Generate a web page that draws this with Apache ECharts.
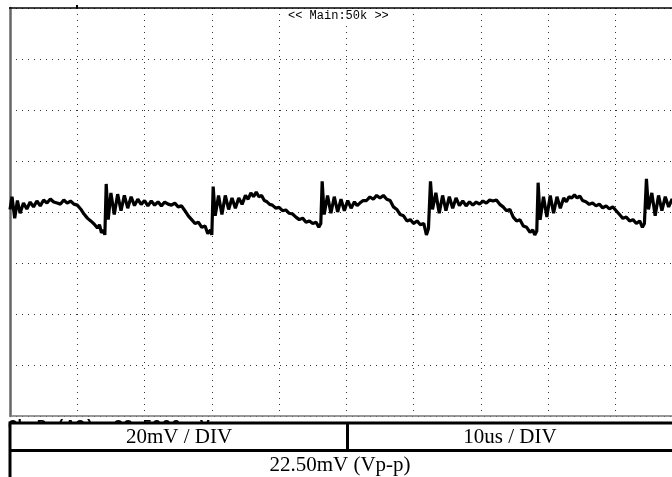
<!DOCTYPE html>
<html><head><meta charset="utf-8">
<script src="https://cdn.jsdelivr.net/npm/echarts@6/dist/echarts.min.js"></script>
<style>html,body{margin:0;padding:0;background:#fff}#c{width:672px;height:477px}</style>
</head><body><div id="c"></div>
<script>
// Trace: time in microseconds, voltage in mV, one pair of arrays per switching cycle
const cycleATime = [0.0,0.3,0.7,1.1,1.5,2.0,2.5,3.0,3.5,4.0,4.5,5.0,5.5,6.0,6.5,7.0,7.5,8.0,8.5,9.0,9.5,10.0,10.5,11.0,11.5,12.0,12.5,13.0,13.3,13.6,13.9,14.1,14.3];
const cycleAVolt = [1.0,6.0,-2.5,4.5,-0.5,3.5,1.2,3.9,2.0,4.3,2.4,4.7,3.5,5.1,3.9,3.5,3.1,4.7,3.5,4.3,3.1,2.7,1.2,-0.8,-2.4,-3.5,-4.7,-6.3,-5.0,-8.2,-7.0,-9.0,11.0];
const cycleBTime = [14.6,15.0,15.5,16.0,16.5,17.0,17.5,18.0,18.5,19.0,19.5,20.0,20.5,21.0,21.5,22.0,22.5,23.0,23.5,24.0,24.5,25.0,25.5,26.0,26.5,27.0,27.5,28.0,28.5,29.0,29.4,29.8,30.0,30.2];
const cycleBVolt = [-3.0,7.5,-1.0,7.0,0.5,6.5,1.5,6.0,2.5,5.0,3.0,4.5,2.4,4.3,2.7,4.0,2.4,3.9,3.1,2.7,3.5,2.0,2.4,0.5,-1.5,-3.0,-4.5,-4.0,-6.0,-5.5,-8.5,-7.0,-9.0,10.0];
const cycleCTime = [30.5,31.0,31.5,32.0,32.5,33.0,33.5,34.0,34.5,35.0,35.4,35.8,36.2,36.6,37.0,37.4,37.8,38.2,38.6,39.0,39.5,40.0,40.5,41.0,41.5,42.0,42.5,43.0,43.5,44.0,44.5,45.0,45.5,45.9,46.2,46.4];
const cycleCVolt = [-1.5,6.5,-1.0,6.5,1.0,5.5,1.5,5.5,3.0,6.5,5.0,7.5,6.0,7.8,6.0,6.5,4.5,4.0,3.0,2.7,1.5,1.8,0.5,0.8,-0.5,-0.8,-2.0,-3.0,-2.4,-4.0,-3.5,-4.5,-4.0,-6.0,-4.5,12.0];
const cycleDTime = [46.7,47.2,47.7,48.2,48.7,49.2,49.7,50.2,50.7,51.2,51.6,52.0,52.5,53.0,53.5,54.0,54.5,55.0,55.5,56.0,56.5,57.0,57.5,58.0,58.5,59.0,59.5,60.0,60.5,61.0,61.5,61.9,62.2,62.5];
const cycleDVolt = [-1.0,6.5,-0.5,6.0,0.0,5.0,0.5,4.5,1.5,4.0,2.5,3.5,4.5,4.5,5.9,5.0,6.5,5.5,6.5,5.0,4.5,2.0,1.0,-1.0,-1.5,-3.5,-3.0,-4.5,-3.5,-5.0,-4.5,-9.0,-6.5,12.0];
const cycleETime = [62.8,63.3,63.8,64.3,64.8,65.3,65.8,66.3,66.8,67.3,67.8,68.3,68.8,69.3,69.8,70.3,70.8,71.3,71.8,72.3,72.8,73.3,73.8,74.3,74.8,75.3,75.8,76.3,76.8,77.3,77.7,78.0,78.3,78.5];
const cycleEVolt = [1.0,7.5,-0.5,6.5,0.5,6.0,1.5,5.5,2.5,4.3,2.4,4.0,2.7,3.9,3.1,4.3,3.5,4.7,4.3,4.7,3.0,2.0,0.5,1.0,-2.0,-3.5,-3.0,-5.5,-6.0,-8.0,-7.0,-9.0,-7.5,11.5];
const cycleFTime = [78.8,79.3,79.8,80.3,80.8,81.3,81.8,82.3,82.7,83.1,83.5,83.9,84.3,84.7,85.1,85.6,86.1,86.6,87.1,87.6,88.1,88.6,89.1,89.6,90.1,90.6,91.1,91.6,92.1,92.6,93.1,93.6,94.0,94.3,94.6];
const cycleFVolt = [-3.0,6.0,-2.0,6.5,-0.5,6.0,1.5,5.5,4.0,6.0,5.5,6.7,5.5,6.3,4.5,4.0,3.0,3.5,2.4,3.1,1.6,2.4,1.2,2.0,0.5,-1.0,-2.5,-2.0,-3.5,-3.0,-4.5,-3.5,-6.0,-4.5,13.0];
const cycleGTime = [94.9,95.4,95.9,96.4,96.9,97.4,97.9,98.4,99.0];
const cycleGVolt = [1.0,7.5,-1.5,6.5,0.5,6.0,2.0,5.0,3.0];

const voltScale = '20mV / DIV';
const timeScale = '10us / DIV';
const measurement = '22.50mV (Vp-p)';
const topLabel = '<< Main:50k >>';
const hiddenLabel = 'Ch B (AC)  22.5000 mV';
const timeMin = 0, timeMax = 98.4, timeStep = 10;   // screen shows ~9.84 of the 10 divisions
const voltMin = -80, voltMax = 80, voltStep = 20;

const times = [].concat(cycleATime, cycleBTime, cycleCTime, cycleDTime, cycleETime, cycleFTime, cycleGTime);
const volts = [].concat(cycleAVolt, cycleBVolt, cycleCVolt, cycleDVolt, cycleEVolt, cycleFVolt, cycleGVolt);
const data = times.map((t, i) => [t, volts[i]]);

const chart = echarts.init(document.getElementById('c'), null, {renderer: 'canvas'});
const dotted = {show: true, lineStyle: {color: '#333', width: 1, type: [1, 5]}};
chart.setOption({
  animation: false,
  backgroundColor: '#fff',
  grid: {left: 10, top: 8, right: 0, height: 408, containLabel: false},
  xAxis: {type: 'value', min: timeMin, max: timeMax, interval: timeStep,
    axisLine: {show: true, onZero: false, lineStyle: {color: '#777', width: 1.5}},
    axisTick: {show: false}, axisLabel: {show: false}, splitLine: dotted},
  yAxis: {type: 'value', min: voltMin, max: voltMax, interval: voltStep,
    axisLine: {show: true, lineStyle: {color: '#666', width: 2.5}},
    axisTick: {show: false}, axisLabel: {show: false}, splitLine: dotted},
  series: [{type: 'line', data: data, showSymbol: false, symbol: 'none', clip: true,
    lineStyle: {color: '#000', width: 3.2}, z: 5}],
  graphic: [
    {type: 'line', shape: {x1: 9, y1: 8, x2: 672, y2: 8}, style: {stroke: '#000', lineWidth: 1.5}, z: 10},
    {type: 'rect', shape: {x: 76, y: 5, width: 2, height: 3}, style: {fill: '#000'}, z: 10},
    {type: 'text', x: 288, y: 10, style: {text: topLabel, font: '12px "Liberation Mono"', fill: '#000', backgroundColor: '#fff'}, z: 10},
    {type: 'text', x: 8, y: 419, style: {text: hiddenLabel, font: 'bold 16px "Liberation Mono"', fill: '#000'}, z: 10},
    {type: 'rect', shape: {x: 10, y: 423, width: 670, height: 60}, style: {fill: '#fff', stroke: '#000', lineWidth: 3}, z: 20},
    {type: 'line', shape: {x1: 10, y1: 450.5, x2: 672, y2: 450.5}, style: {stroke: '#000', lineWidth: 3}, z: 21},
    {type: 'line', shape: {x1: 347.5, y1: 423, x2: 347.5, y2: 450}, style: {stroke: '#000', lineWidth: 3}, z: 21},
    {type: 'text', x: 179, y: 437, style: {text: voltScale, font: '21px "Liberation Serif"', fill: '#000', align: 'center', verticalAlign: 'middle'}, z: 22},
    {type: 'text', x: 510, y: 437, style: {text: timeScale, font: '21px "Liberation Serif"', fill: '#000', align: 'center', verticalAlign: 'middle'}, z: 22},
    {type: 'text', x: 340, y: 465, style: {text: measurement, font: '21px "Liberation Serif"', fill: '#000', align: 'center', verticalAlign: 'middle'}, z: 22}
  ]
});
</script>
</body></html>
